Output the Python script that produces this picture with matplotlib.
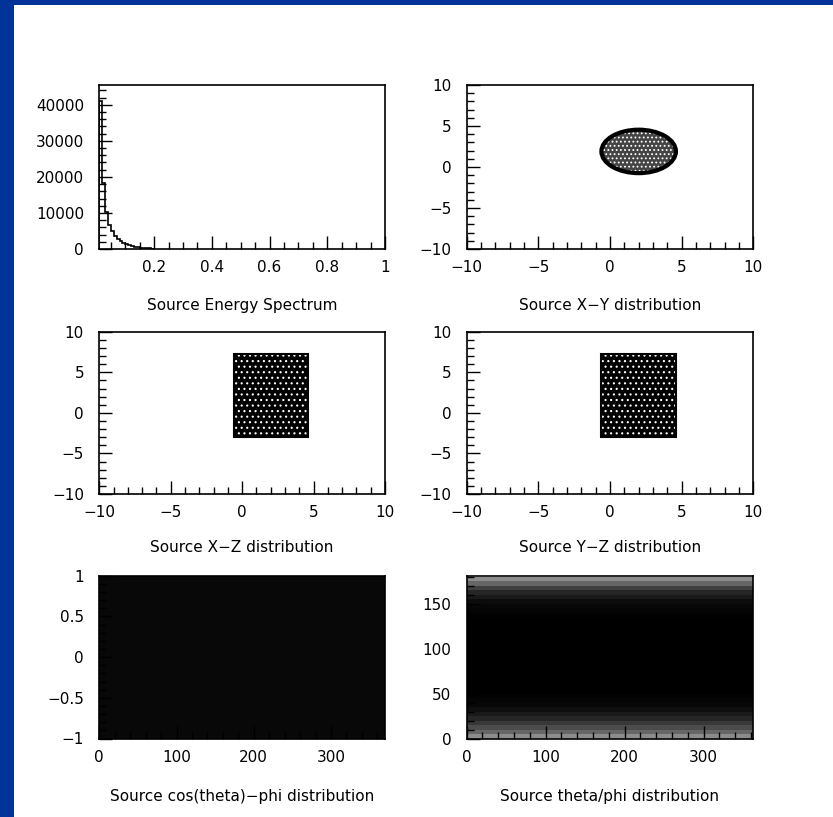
import numpy as np
import matplotlib
matplotlib.use("Agg")
import matplotlib.pyplot as plt
from matplotlib.patches import Ellipse, Rectangle
from matplotlib.ticker import MultipleLocator, FixedLocator, FixedFormatter

# ---------------- data ----------------
# Energy spectrum histogram (bin width 0.01 starting at 0.01)
energy_start = 0.01
energy_binw = 0.01
energy_counts = [41000, 18300, 10200, 6600, 4900, 3700, 2900, 2100, 1600, 1250,
                 1000, 800, 600, 480, 380, 300, 220, 150, 90]
energy_xticks = [0.2, 0.4, 0.6, 0.8, 1.0]
energy_xticklabels = ["0.2", "0.4", "0.6", "0.8", "1"]
energy_yticks = [0, 10000, 20000, 30000, 40000]

# Source X-Y: filled disc (center, width, height)
xy_center = (2.0, 1.9)
xy_size = (5.2, 5.3)
# Source X-Z / Y-Z: filled boxes [xmin, xmax, zmin, zmax]
xz_box = [-0.6, 4.6, -3.0, 7.3]
yz_box = [-0.6, 4.6, -3.0, 7.3]
pos_ticks = [-10, -5, 0, 5, 10]

# cos(theta)-phi: uniform full box
cos_phi_box = [0, 370, -1, 1]
cos_yticks = [-1, -0.5, 0, 0.5, 1]
cos_yticklabels = ["\u22121", "\u22120.5", "0", "0.5", "1"]
phi_xticks = [0, 100, 200, 300]

# theta/phi: black-density profile vs theta (bins of 5 deg)
theta_edges = [0, 5, 10, 15, 20, 25, 30, 35, 40, 45, 50, 55, 60, 65, 70, 75, 80, 85, 90,
               95, 100, 105, 110, 115, 120, 125, 130, 135, 140, 145, 150, 155, 160, 165,
               170, 175, 180]
theta_density = [0.45, 0.6, 0.7, 0.78, 0.85, 0.9, 0.94, 0.97, 0.98, 0.99, 1, 1, 1, 1, 1, 1,
                 1, 1, 1, 1, 1, 1, 1, 1, 1, 1, 1, 0.99, 0.98, 0.97, 0.95, 0.9, 0.85, 0.75,
                 0.6, 0.45]
phi_edges = [0, 363]
theta_yticks = [0, 50, 100, 150]

titles = ["Source Energy Spectrum", "Source X\u2212Y distribution",
          "Source X\u2212Z distribution", "Source Y\u2212Z distribution",
          "Source cos(theta)\u2212phi distribution", "Source theta/phi distribution"]

# ---------------- figure ----------------
W, H = 833, 817
fig = plt.figure(figsize=(W / 100, H / 100), dpi=100, facecolor="#003399")
fig.add_artist(Rectangle((14 / W, 0), 1 - 14 / W, 1 - 5 / H, transform=fig.transFigure,
                         facecolor="white", edgecolor="none", zorder=0))

FS = 11
plt.rcParams["font.family"] = ["DejaVu Sans"]
plt.rcParams["hatch.linewidth"] = 0.8


def px_axes(x0, x1, y0, y1):
    return fig.add_axes([x0 / W, 1 - y1 / H, (x1 - x0) / W, (y1 - y0) / H])


def style(ax):
    for s in ax.spines.values():
        s.set_linewidth(1.2)
    ax.tick_params(which="both", direction="in", top=False, right=False,
                   labelsize=FS, pad=8, width=1)
    ax.tick_params(axis="y", which="both", pad=11)
    ax.tick_params(which="major", length=9.5)
    ax.tick_params(which="minor", length=5)


boxes = [(99.3, 385, 85, 249), (466.7, 753.3, 85, 249),
         (99.3, 385, 331.7, 494), (466.7, 753.3, 331.7, 494),
         (99.3, 385, 575.7, 738.5), (466.7, 753.3, 575.7, 739)]
title_y = [305, 305, 548, 548, 797, 797]
axes = [px_axes(*b) for b in boxes]

# 1: energy spectrum
ax = axes[0]
edges = energy_start + energy_binw * np.arange(len(energy_counts) + 1)
ax.stairs(energy_counts, edges, color="black", linewidth=1.2)
ax.set_xlim(0.01, 1.0)
ax.set_ylim(0, 45500)
ax.xaxis.set_major_locator(FixedLocator(energy_xticks))
ax.xaxis.set_major_formatter(FixedFormatter(energy_xticklabels))
ax.xaxis.set_minor_locator(MultipleLocator(0.05))
ax.yaxis.set_major_locator(FixedLocator(energy_yticks))
ax.yaxis.set_minor_locator(MultipleLocator(2000))
style(ax)

# 2: X-Y
ax = axes[1]
ax.add_patch(Ellipse(xy_center, xy_size[0], xy_size[1], facecolor="#444444",
                     edgecolor="white", hatch="....", linewidth=0))
ax.add_patch(Ellipse(xy_center, xy_size[0], xy_size[1], facecolor="none",
                     edgecolor="black", linewidth=3))
# 3,4: X-Z, Y-Z
for a, b in ((axes[2], xz_box), (axes[3], yz_box)):
    a.add_patch(Rectangle((b[0], b[2]), b[1] - b[0], b[3] - b[2], facecolor="black",
                          edgecolor="white", hatch="...", linewidth=0))
    a.add_patch(Rectangle((b[0], b[2]), b[1] - b[0], b[3] - b[2], facecolor="none",
                          edgecolor="black", linewidth=1.5))
for a in axes[1:4]:
    a.set_xlim(-10, 10)
    a.set_ylim(-10, 10)
    a.xaxis.set_major_locator(FixedLocator(pos_ticks))
    a.yaxis.set_major_locator(FixedLocator(pos_ticks))
    a.xaxis.set_minor_locator(MultipleLocator(1))
    a.yaxis.set_minor_locator(MultipleLocator(1))
    style(a)

# 5: cos(theta)-phi
ax = axes[4]
b = cos_phi_box
ax.add_patch(Rectangle((b[0], b[2]), b[1] - b[0], b[3] - b[2], facecolor="#080808",
                       edgecolor="none"))
ax.set_xlim(0, 370)
ax.set_ylim(-1, 1)
ax.xaxis.set_major_locator(FixedLocator(phi_xticks))
ax.yaxis.set_major_locator(FixedLocator(cos_yticks))
ax.yaxis.set_major_formatter(FixedFormatter(cos_yticklabels))
ax.xaxis.set_minor_locator(MultipleLocator(20))
ax.yaxis.set_minor_locator(MultipleLocator(0.1))
style(ax)

# 6: theta/phi
ax = axes[5]
dens = np.array(theta_density)[:, None]
ax.pcolormesh(phi_edges, theta_edges, dens, cmap="gray_r", vmin=0, vmax=1,
              shading="flat")
ax.set_xlim(0, 363)
ax.set_ylim(0, 181)
ax.xaxis.set_major_locator(FixedLocator(phi_xticks))
ax.yaxis.set_major_locator(FixedLocator(theta_yticks))
ax.xaxis.set_minor_locator(MultipleLocator(20))
ax.yaxis.set_minor_locator(MultipleLocator(10))
style(ax)

for a, t, (x0, x1, _, _), ty in zip(axes, titles, boxes, title_y):
    fig.text((x0 + x1) / 2 / W, 1 - ty / H, t, ha="center", va="center", fontsize=FS)

fig.savefig("out.png", dpi=100, facecolor=fig.get_facecolor())
